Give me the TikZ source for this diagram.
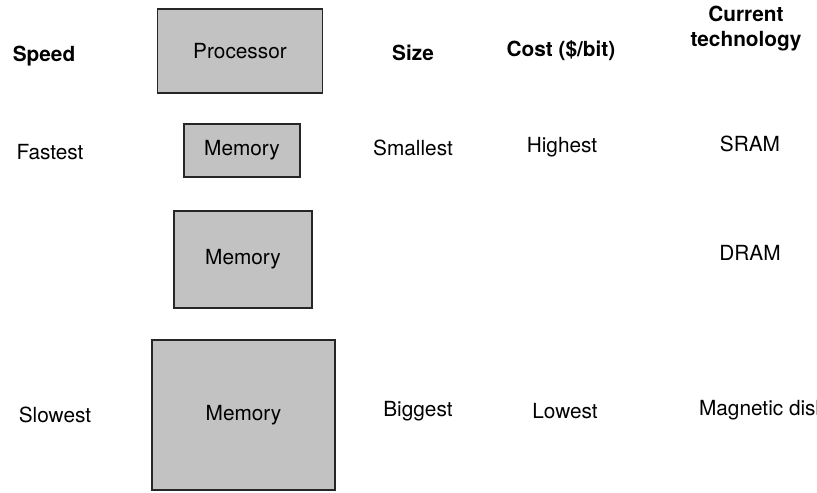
\documentclass[tikz,border=0pt]{standalone}
\usepackage{fontspec}
\setmainfont{TeX Gyre Heros}
\begin{document}
\begin{tikzpicture}[
  x=0.5pt, y=-0.5pt,
  font=\fontsize{10.4}{12.5}\selectfont,
  level/.style={draw=black!85, line width=0.7pt, fill=black!24, inner sep=0pt},
  heading/.style={font=\fontsize{10.4}{12.5}\selectfont\bfseries, align=center},
  entry/.style={anchor=center}
]
\useasboundingbox (0,0) rectangle (817,492);
\node[heading] (speedhead) at (44,56) {Speed};
\node[heading] (sizehead) at (413,53) {Size};
\node[heading] (costhead) at (561,51) {Cost (\$/bit)};
\node[heading] (techhead) at (746,29) {Current\\technology};

\node[level, minimum width=82.5pt, minimum height=42pt] (processor) at (240,51) {Processor};
\node[level, minimum width=58pt, minimum height=26.5pt] (memfast) at (242,150.5) {Memory};
\node[level, minimum width=69pt, minimum height=48.5pt] (memmid) at (243,259.5) {Memory};
\node[level, minimum width=91.5pt, minimum height=75pt] (memslow) at (243.5,415) {Memory};

\node[entry] (fastest) at (50,152) {Fastest};
\node[entry] (smallest) at (413,148) {Smallest};
\node[entry] (highest) at (562,147) {Highest};
\node[entry] (sram) at (750,144) {SRAM};
\node[entry] (dram) at (750,253) {DRAM};
\node[entry] (slowest) at (55,415) {Slowest};
\node[entry] (biggest) at (418,411) {Biggest};
\node[entry] (lowest) at (565,411) {Lowest};
\node[entry, anchor=west] (magdisk) at (692,410) {Magnetic disk};
\end{tikzpicture}
\end{document}
